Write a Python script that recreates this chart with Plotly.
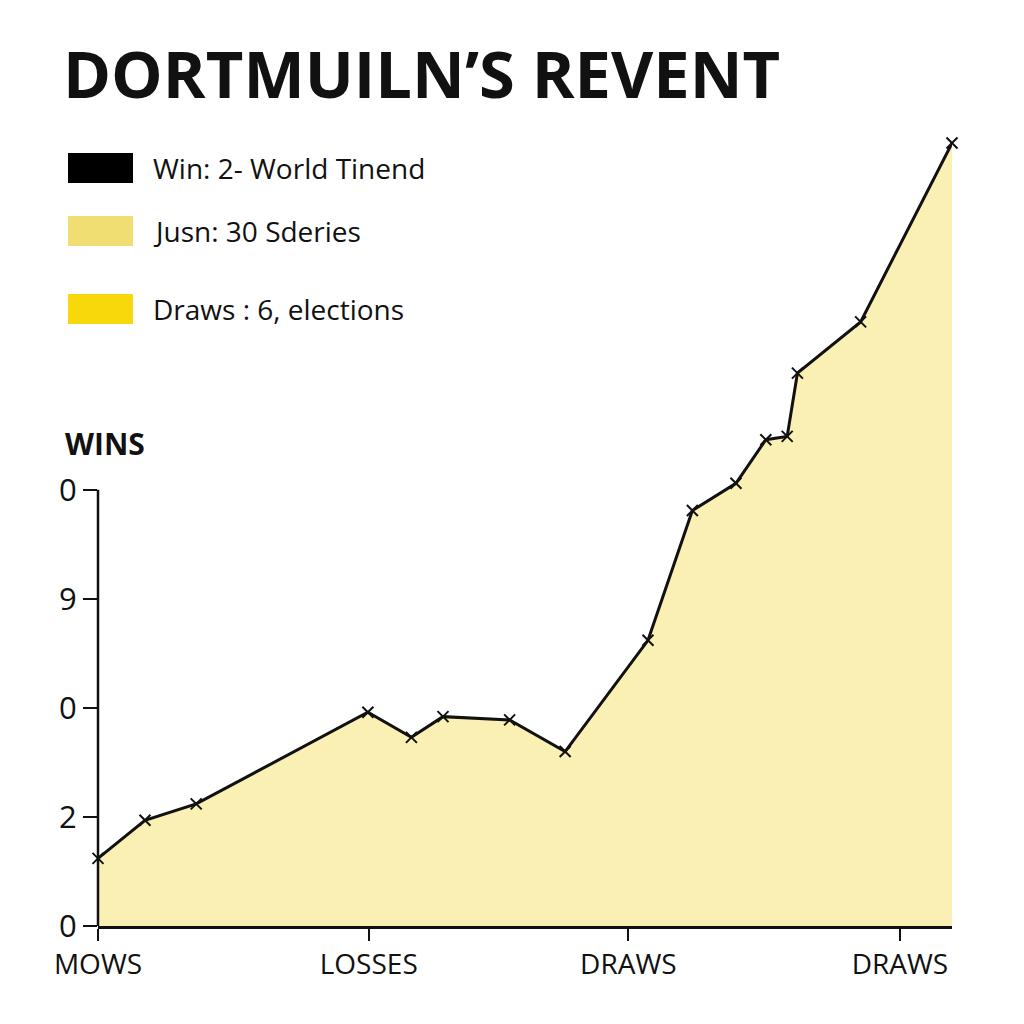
import plotly.graph_objects as go

# ---- data ----
x_vals = [0, 5.5, 11.5, 31.6, 36.7, 40.4, 48.2, 54.7, 64.4, 69.6, 74.7, 78.2, 80.7, 81.9, 89.3, 100]
y_vals = [0.62, 0.97, 1.12, 1.96, 1.73, 1.92, 1.89, 1.60, 2.62, 3.81, 4.06, 4.46, 4.49, 5.07, 5.54, 7.18]

x_tick_pos = [0, 31.7, 62.1, 93.9]
x_tick_text = ["MOWS", "LOSSES", "DRAWS", "DRAWS"]
y_tick_pos = [0, 1, 2, 3, 4]
y_tick_text = ["0", "2", "0", "9", "0"]

legend_labels = ["Win: 2- World Tinend", "Jusn: 30 Sderies", "Draws : 6, elections"]
legend_colors = ["#000000", "#F1DE72", "#F8D80A"]

title_text = "DORTMUILN’S REVENT"
y_title = "WINS"

FONT = "Open Sans, Noto Sans, sans-serif"

Y_MAX = 7.3
Y_AXIS_TOP = 4

fig = go.Figure()
fig.add_trace(go.Scatter(
    x=x_vals, y=y_vals, mode="lines+markers",
    fill="tozeroy", fillcolor="#FBF0B3",
    line=dict(color="#111111", width=3),
    marker=dict(symbol="x-thin", size=11, line=dict(color="#111111", width=2), color="#111111"),
    cliponaxis=False, showlegend=False, hoverinfo="skip",
))

W, H = 1024, 1024
L, R, T, B = 98, 72, 130, 98
pw, ph = W - L - R, H - T - B

def px_x(p):
    return (p - L) / pw

def px_y(p):
    return (H - B - p) / ph

shapes = [dict(type="line", xref="paper", yref="paper", x0=0, x1=0, y0=0, y1=Y_AXIS_TOP / Y_MAX,
               line=dict(color="#111111", width=2.5), layer="above")]
annotations = []
sw_y = [168, 231, 309]
for lab, col, yc in zip(legend_labels, legend_colors, sw_y):
    shapes.append(dict(type="rect", xref="paper", yref="paper",
                       x0=px_x(68), x1=px_x(133), y0=px_y(yc + 15), y1=px_y(yc - 15),
                       fillcolor=col, line=dict(width=0)))
    annotations.append(dict(xref="paper", yref="paper", x=px_x(151), y=px_y(yc),
                            xanchor="left", yanchor="middle", showarrow=False, text=lab,
                            font=dict(family=FONT, size=28, color="#111111")))

annotations.append(dict(xref="paper", yref="paper", x=px_x(61), y=px_y(73),
                        xanchor="left", yanchor="middle", showarrow=False,
                        text="<b>" + title_text + "</b>",
                        font=dict(family=FONT, size=65, color="#111111")))
annotations.append(dict(xref="paper", yref="paper", x=px_x(63), y=px_y(443),
                        xanchor="left", yanchor="middle", showarrow=False,
                        text="<b>" + y_title + "</b>",
                        font=dict(family=FONT, size=30, color="#111111")))

fig.update_layout(
    width=W, height=H,
    margin=dict(l=L, r=R, t=T, b=B),
    paper_bgcolor="white", plot_bgcolor="white",
    shapes=shapes, annotations=annotations,
    xaxis=dict(range=[0, 100], tickvals=x_tick_pos, ticktext=x_tick_text,
               showgrid=False, zeroline=False, showline=True, linecolor="#111111", linewidth=2.5,
               ticks="outside", ticklen=12, tickwidth=2, tickcolor="#111111",
               tickfont=dict(family=FONT, size=28, color="#111111")),
    yaxis=dict(range=[0, Y_MAX], tickvals=y_tick_pos, ticktext=y_tick_text,
               showgrid=False, zeroline=False, showline=False,
               ticks="outside", ticklen=14, tickwidth=2, tickcolor="#111111",
               tickfont=dict(family=FONT, size=31, color="#111111")),
)

fig.write_html("out.html")
